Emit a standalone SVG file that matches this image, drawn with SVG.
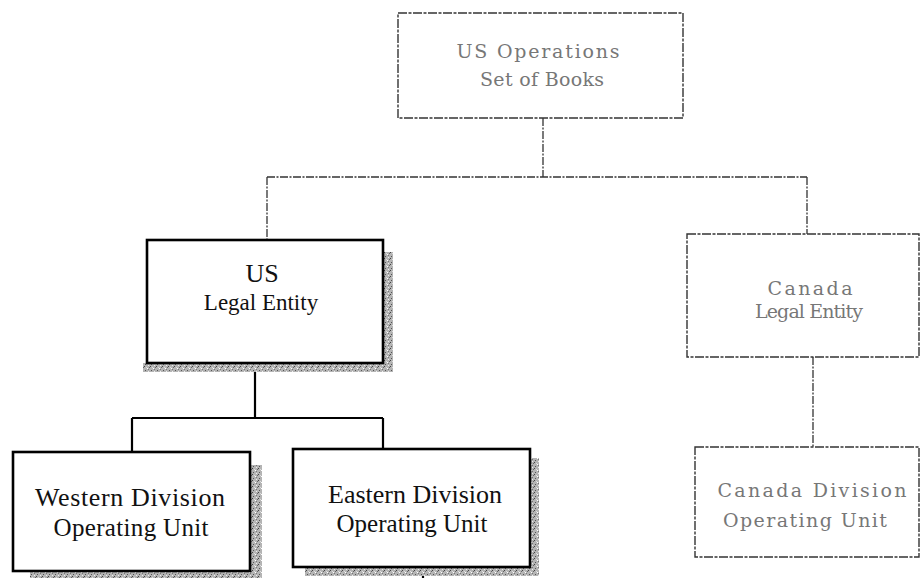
<svg xmlns="http://www.w3.org/2000/svg" width="921" height="578" viewBox="0 0 921 578">
<style>
.faint{fill:#fff;stroke:#333;stroke-width:1.4;stroke-dasharray:9 1.5 3 1.5}
.bold{fill:#fff;stroke:#000;stroke-width:2.6}
.shadow{fill:url(#stip)}
.ftxt{font-family:"DejaVu Serif","Liberation Serif",serif;font-size:19px;fill:#777;text-anchor:middle}
.dtxt{font-family:"Liberation Serif","Times New Roman",serif;fill:#111;text-anchor:middle}
.dash{fill:none;stroke:#333;stroke-width:1.3;stroke-dasharray:8 1.5 2 1.5}
.solid{fill:none;stroke:#000;stroke-width:2.2}
</style>
<defs>
<pattern id="stip" width="6" height="6" patternUnits="userSpaceOnUse">
<rect width="6" height="6" fill="#b4b4b4"/>
<rect x="0" y="0" width="1" height="1" fill="#444"/>
<rect x="3" y="2" width="1" height="1" fill="#fff"/>
<rect x="1" y="4" width="1" height="1" fill="#555"/>
<rect x="4" y="5" width="1" height="1" fill="#eee"/>
<rect x="5" y="1" width="1" height="1" fill="#666"/>
<rect x="2" y="1" width="1" height="1" fill="#ddd"/>
<rect x="4" y="3" width="1" height="1" fill="#777"/>
</pattern>
</defs>
<g id="connectors">
<path class="dash" d="M543,118 V177 M267,177 H807 M267,177 V240 M807,177 V234 M813,357 V447"/>
<path class="solid" d="M255,363 V418 M132,418 H383 M132,418 V452 M383,418 V449 M423,567 V578"/>
</g>
<g id="us-operations">
<rect class="faint" x="398" y="13" width="285" height="105"/>
<text class="ftxt" x="538" y="58" textLength="163" lengthAdjust="spacing">US Operations</text>
<text class="ftxt" x="542" y="86" textLength="124" lengthAdjust="spacing">Set of Books</text>
</g>
<g id="us-legal">
<path class="shadow" d="M383,252 H393 V372 H143 V363 H383 Z"/>
<rect class="bold" x="147" y="240" width="236" height="123"/>
<text class="dtxt" x="262" y="282" font-size="26">US</text>
<text class="dtxt" x="261" y="310" font-size="23">Legal Entity</text>
</g>
<g id="canada-legal">
<rect class="faint" x="687" y="234" width="232" height="123"/>
<text class="ftxt" x="810" y="295" textLength="85" lengthAdjust="spacing">Canada</text>
<text class="ftxt" x="809" y="318" textLength="108" lengthAdjust="spacing">Legal Entity</text>
</g>
<g id="western">
<path class="shadow" d="M250,465 H262 V578 H30 V571 H250 Z"/>
<rect class="bold" x="13" y="452" width="237" height="119"/>
<text class="dtxt" x="130" y="506" font-size="26" textLength="190" lengthAdjust="spacing">Western Division</text>
<text class="dtxt" x="131" y="536" font-size="25" textLength="155" lengthAdjust="spacing">Operating Unit</text>
</g>
<g id="eastern">
<path class="shadow" d="M530,458 H539 V576 H305 V567 H530 Z"/>
<rect class="bold" x="293" y="449" width="237" height="118"/>
<text class="dtxt" x="415" y="503" font-size="26" textLength="174" lengthAdjust="spacing">Eastern Division</text>
<text class="dtxt" x="412" y="532" font-size="25" textLength="151" lengthAdjust="spacing">Operating Unit</text>
</g>
<g id="canada-division">
<rect class="faint" x="695" y="447" width="224" height="110"/>
<text class="ftxt" x="812" y="497" textLength="189" lengthAdjust="spacing">Canada Division</text>
<text class="ftxt" x="805" y="527" textLength="164" lengthAdjust="spacing">Operating Unit</text>
</g>
</svg>
